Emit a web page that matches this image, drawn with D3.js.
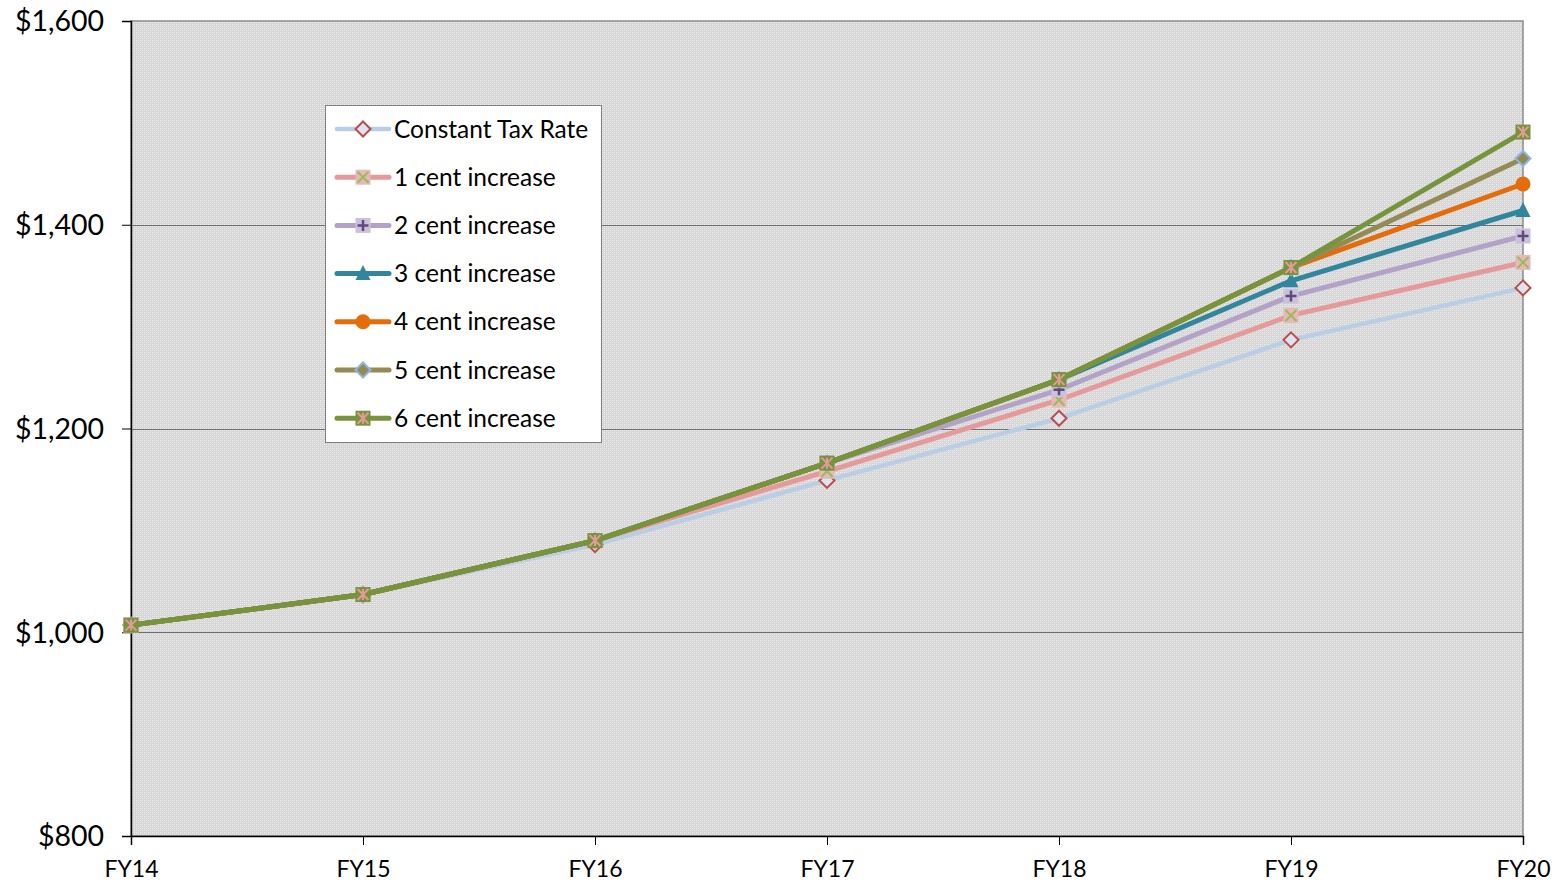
<!DOCTYPE html>
<html>
<head>
<meta charset="utf-8">
<script src="https://cdn.jsdelivr.net/npm/d3@7"></script>
<style>
  html, body { margin: 0; padding: 0; background: #ffffff; }
  svg { display: block; }
  text { font-family: Lato, "Open Sans", "DejaVu Sans", sans-serif; fill: #000; }
</style>
</head>
<body>
<svg id="chart" width="1560" height="884"></svg>
<script>
// Fiscal years along the x axis
const years = ["FY14", "FY15", "FY16", "FY17", "FY18", "FY19", "FY20"];

// Projected amounts for each tax-rate scenario
const constantTaxRate = [1007, 1037, 1086, 1149, 1210, 1287, 1338];
const cent1 = [1007, 1037, 1090, 1158, 1228, 1311, 1363];
const cent2 = [1007, 1037, 1090, 1166, 1238, 1330, 1389];
const cent3 = [1007, 1037, 1090, 1166, 1248, 1345, 1414];
const cent4 = [1007, 1037, 1090, 1166, 1248, 1358, 1440];
const cent5 = [1007, 1037, 1090, 1166, 1248, 1358, 1465];
const cent6 = [1007, 1037, 1090, 1166, 1248, 1358, 1491];

const yTicks = [800, 1000, 1200, 1400, 1600];

const seriesNames = ["Constant Tax Rate", "1 cent increase", "2 cent increase",
  "3 cent increase", "4 cent increase", "5 cent increase", "6 cent increase"];
const seriesValues = [constantTaxRate, cent1, cent2, cent3, cent4, cent5, cent6];

const styles = [
  { line: "#b9cde5", width: 4.5, marker: "diamond", fill: "#dbe5f1", stroke: "#be4b48", glyph: null },
  { line: "#e6999a", width: 5, marker: "square", fill: "#e6b9b8", stroke: "#e6b9b8", glyph: "x", glyphColor: "#9bbb59" },
  { line: "#b3a2c7", width: 5, marker: "square", fill: "#ccc1da", stroke: "#ccc1da", glyph: "plus", glyphColor: "#604a7b" },
  { line: "#31859c", width: 5, marker: "triangle", fill: "#31859c", stroke: "#31859c", glyph: null },
  { line: "#e46c0a", width: 5, marker: "circle", fill: "#e46c0a", stroke: "#e46c0a", glyph: null },
  { line: "#948a54", width: 5, marker: "diamond", fill: "#948a54", stroke: "#8eb4e3", glyph: null },
  { line: "#77933c", width: 5, marker: "square", fill: "#77933c", stroke: "#77933c", glyph: "star", glyphColor: "#e6999a" }
];

const svg = d3.select("#chart");
const plotLeft = 131, plotRight = 1523, plotTop = 21, plotBottom = 836;

const x = d3.scalePoint().domain(years).range([plotLeft, plotRight]);
const y = d3.scaleLinear().domain([800, 1600]).range([plotBottom, plotTop]);

// Dotted grey plot-area fill
const defs = svg.append("defs");
const pat = defs.append("pattern").attr("id", "dots")
  .attr("patternUnits", "userSpaceOnUse").attr("width", 4).attr("height", 4);
pat.append("rect").attr("width", 4).attr("height", 4).attr("fill", "#d6d6d6");
pat.append("rect").attr("x", 0).attr("y", 0).attr("width", 1).attr("height", 1).attr("fill", "#f2f2f2");
pat.append("rect").attr("x", 2).attr("y", 2).attr("width", 1).attr("height", 1).attr("fill", "#f2f2f2");
pat.append("rect").attr("x", 2).attr("y", 0).attr("width", 1).attr("height", 1).attr("fill", "#e4e4e4");
pat.append("rect").attr("x", 0).attr("y", 2).attr("width", 1).attr("height", 1).attr("fill", "#e4e4e4");

svg.append("rect")
  .attr("x", plotLeft).attr("y", plotTop)
  .attr("width", plotRight - plotLeft).attr("height", plotBottom - plotTop)
  .attr("fill", "url(#dots)")
  .attr("stroke", "#8c8c8c").attr("stroke-width", 1.5);

// Horizontal gridlines
svg.append("g").selectAll("line")
  .data(yTicks.filter(d => d > 800 && d < 1600))
  .join("line")
  .attr("x1", plotLeft).attr("x2", plotRight)
  .attr("y1", d => Math.round(y(d)) + 0.5).attr("y2", d => Math.round(y(d)) + 0.5)
  .attr("stroke", "#6e6e6e").attr("stroke-width", 1);

// Y axis
const yAxis = svg.append("g")
  .attr("transform", `translate(${plotLeft},0)`)
  .call(d3.axisLeft(y).tickValues(yTicks).tickSize(9).tickPadding(18)
    .tickFormat(d => "$" + d3.format(",")(d)));
yAxis.select(".domain").attr("stroke", "#000").attr("stroke-width", 1.5);
yAxis.selectAll(".tick line").attr("stroke", "#000");
yAxis.selectAll(".tick text").style("font-size", "28.5px").attr("dy", "0.35em");

// X axis
const xAxis = svg.append("g")
  .attr("transform", `translate(0,${plotBottom})`)
  .call(d3.axisBottom(x).tickSize(9).tickPadding(16));
xAxis.select(".domain").attr("stroke", "#000").attr("stroke-width", 1.5);
xAxis.selectAll(".tick line").attr("stroke", "#000");
xAxis.selectAll(".tick text").style("font-size", "23px");

function drawMarker(g, s, size) {
  const h = size / 2;
  if (s.marker === "diamond") {
    g.append("path").attr("d", `M0,${-h} L${h},0 L0,${h} L${-h},0 Z`)
      .attr("fill", s.fill).attr("stroke", s.stroke).attr("stroke-width", 2);
  } else if (s.marker === "square") {
    g.append("rect").attr("x", -h).attr("y", -h).attr("width", size).attr("height", size)
      .attr("fill", s.fill);
    const k = h - 2;
    if (s.glyph === "x" || s.glyph === "star") {
      g.append("path").attr("d", `M${-k},${-k} L${k},${k} M${-k},${k} L${k},${-k}`)
        .attr("stroke", s.glyphColor).attr("stroke-width", 2);
    }
    if (s.glyph === "star") {
      g.append("path").attr("d", `M0,${-k} L0,${k}`)
        .attr("stroke", s.glyphColor).attr("stroke-width", 2);
    }
    if (s.glyph === "plus") {
      g.append("path").attr("d", `M0,${-k} L0,${k} M${-k},0 L${k},0`)
        .attr("stroke", s.glyphColor).attr("stroke-width", 2.5);
    }
  } else if (s.marker === "triangle") {
    g.append("path").attr("d", `M0,${-h - 1} L${h},${h - 1} L${-h},${h - 1} Z`)
      .attr("fill", s.fill);
  } else if (s.marker === "circle") {
    g.append("circle").attr("r", h).attr("fill", s.fill);
  }
}

const line = d3.line().x((d, i) => x(years[i])).y(d => y(d));

// Series, drawn so later scenarios sit on top
seriesValues.forEach((vals, si) => {
  const s = styles[si];
  const g = svg.append("g");
  g.append("path").datum(vals)
    .attr("d", line)
    .attr("fill", "none")
    .attr("stroke", s.line)
    .attr("stroke-width", s.width)
    .attr("stroke-linejoin", "round");
  vals.forEach((v, i) => {
    const mg = g.append("g").attr("transform", `translate(${x(years[i])},${y(v)})`);
    drawMarker(mg, s, 15);
  });
});

// Legend
const lg = svg.append("g").attr("transform", "translate(325,105)");
lg.append("rect").attr("x", 0.5).attr("y", 0.5).attr("width", 276).attr("height", 337)
  .attr("fill", "#ffffff").attr("stroke", "#7f7f7f").attr("stroke-width", 1);
seriesNames.forEach((name, i) => {
  const s = styles[i];
  const cy = 24 + i * 48.2;
  const row = lg.append("g").attr("transform", `translate(0,${cy})`);
  row.append("line").attr("x1", 12).attr("x2", 64).attr("y1", 0).attr("y2", 0)
    .attr("stroke", s.line).attr("stroke-width", s.width).attr("stroke-linecap", "round");
  const mg = row.append("g").attr("transform", "translate(38,0)");
  drawMarker(mg, s, 15);
  row.append("text").attr("x", 69).attr("y", 0).attr("dy", "0.35em")
    .style("font-size", "24.5px").text(name);
});
</script>
</body>
</html>
